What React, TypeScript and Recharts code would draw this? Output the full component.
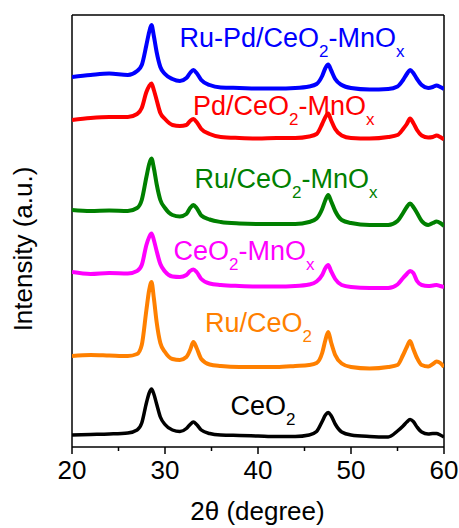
import React from 'react';
import { LineChart, Line, XAxis, YAxis, ReferenceLine } from 'recharts';

// 2θ positions (degree)
const twoTheta = [20, 22, 24, 26, 27, 27.5, 28, 28.3, 28.55, 28.8, 29.1, 29.5, 30, 30.8, 31.6, 32.3, 32.7, 33.05, 33.4, 33.9, 34.8, 36, 38, 40, 42, 44, 45.5, 46.3, 46.9, 47.25, 47.55, 47.85, 48.3, 49, 50, 52, 54, 55, 55.6, 56, 56.35, 56.7, 57.1, 57.6, 58.3, 58.8, 59.2, 59.6, 60];

// stacked intensities (a.u., offset already included)
const ruPdCeMn = [370, 372, 373.5, 372, 376, 382, 402, 415, 422, 411, 395, 380, 373, 368, 366, 369, 374, 377, 374, 367, 362, 359.5, 359, 358.5, 358.5, 359, 360.5, 363, 371, 379, 382.5, 377, 368, 362, 359, 357.5, 358, 360.5, 367, 373, 377, 374, 368, 362, 359, 360, 361.5, 360, 358];
const pdCeMn = [327, 329, 330, 330, 333, 339, 355, 361, 363.5, 357, 347, 334, 328, 322, 321, 322, 326, 328, 325, 318, 313, 310, 309, 308.5, 309, 309, 310.5, 313, 323, 330, 333.5, 327, 318, 311.5, 309, 308.5, 310, 312, 318, 323, 328.5, 324, 317, 311.5, 309.5, 310, 311.5, 310, 307.5];
const ruCeMn = [237, 236, 236.5, 236, 239, 247, 270, 283, 288.5, 279, 263, 247, 239, 232, 230.5, 233, 239, 242, 239, 231.5, 227.5, 225, 223.5, 223, 223, 223, 225, 228.5, 238, 247, 252, 246, 236, 227, 224, 222, 222, 226, 234, 240, 243.5, 240, 234, 226, 222, 224, 225.5, 224, 221];
const ceMn = [175, 173, 174, 173.5, 176, 182, 202, 210, 213.5, 207, 196, 183, 175.5, 170.5, 170, 172, 176, 177.5, 175, 168, 163.5, 162, 161, 160.5, 160.5, 161, 162.5, 165.5, 172, 179, 182, 176, 168, 162, 160, 159, 159, 162.5, 169, 173, 176, 174, 166, 162, 161, 161.5, 162, 161, 160];
const ruCe = [91, 92, 91.5, 91, 93, 102, 137, 157, 165, 149, 125, 104, 95, 88, 87, 90, 97, 105, 99, 88, 82.5, 81, 80, 80, 80, 81, 82, 84, 94, 107, 115, 105, 92, 83.5, 80, 78.5, 80, 82, 92, 100, 106, 98, 89, 82, 80.5, 83, 85.5, 84, 80];
const ce = [12, 12.5, 13, 14, 17, 24, 44, 54, 58, 53, 43, 30, 22.5, 17, 15.5, 18.5, 22.5, 25, 22.5, 17, 13.5, 12, 11.5, 11, 10.5, 10.5, 12, 15.5, 25.5, 32, 34.5, 31.5, 23, 15, 12, 10.5, 10, 16, 21, 25, 27.5, 25.5, 20, 15, 13, 13.5, 13.5, 12, 10];

const xTicks = [20, 25, 30, 35, 40, 45, 50, 55, 60];

const seriesKeys = ['ruPdCeMn', 'pdCeMn', 'ruCeMn', 'ceMn', 'ruCe', 'ce'];
const seriesValues = [ruPdCeMn, pdCeMn, ruCeMn, ceMn, ruCe, ce];
const seriesColors = ['#0000FF', '#FF0000', '#008000', '#FF00FF', '#FF8000', '#000000'];

// label text pieces: [text, isSubscript]
const seriesLabels: [string, boolean][][] = [
  [['Ru-Pd/CeO', false], ['2', true], ['-MnO', false], ['x', true]],
  [['Pd/CeO', false], ['2', true], ['-MnO', false], ['x', true]],
  [['Ru/CeO', false], ['2', true], ['-MnO', false], ['x', true]],
  [['CeO', false], ['2', true], ['-MnO', false], ['x', true]],
  [['Ru/CeO', false], ['2', true]],
  [['CeO', false], ['2', true]],
];
const labelPos = [
  [179.5, 46.5],
  [193, 115],
  [194.5, 188],
  [173.5, 260],
  [205, 331.5],
  [230.5, 415],
];

const data = twoTheta.map((x, i) => {
  const row: Record<string, number> = { x };
  seriesKeys.forEach((k, j) => {
    row[k] = seriesValues[j][i];
  });
  return row;
});

const FONT = '"Liberation Sans", Arial, Helvetica, sans-serif';

const XTick = (props: any) => {
  const { x, y, payload } = props;
  const v = payload.value;
  const major = v % 10 === 0;
  return (
    <g>
      <line x1={x} x2={x} y1={y} y2={y + (major ? 7 : 4)} stroke="#000" strokeWidth={1.5} />
      {major && (
        <text x={x} y={y + 13.5} dy="0.71em" textAnchor="middle" fontSize={26} fill="#000" fontFamily={FONT}>
          {v}
        </text>
      )}
    </g>
  );
};

const SeriesLabel = ({ parts, x, y, color }: { parts: [string, boolean][]; x: number; y: number; color: string }) => {
  let sub = false;
  return (
    <text x={x} y={y} fill={color} fontFamily={FONT} fontSize={27}>
      {parts.map(([t, isSub], i) => {
        let dy = 0;
        if (isSub && !sub) dy = 10;
        if (!isSub && sub) dy = -10;
        sub = isSub;
        return (
          <tspan key={i} dy={dy} fontSize={isSub ? 17 : 27}>
            {t}
          </tspan>
        );
      })}
    </text>
  );
};

export default function App() {
  return (
    <div style={{ position: 'absolute', left: 0, top: 0, background: '#fff' }}>
      <LineChart width={459} height={528} data={data} margin={{ top: 15, right: 15, bottom: 0, left: 72 }}>
        <XAxis
          dataKey="x"
          type="number"
          domain={[20, 60]}
          ticks={xTicks}
          interval={0}
          allowDataOverflow
          tickSize={0}
          tickMargin={0}
          tickLine={false}
          tick={<XTick />}
          axisLine={{ stroke: '#000', strokeWidth: 1.5 }}
          height={81}
        />
        <YAxis hide type="number" domain={[0, 432]} allowDataOverflow />
        <ReferenceLine x={20} stroke="#000" strokeWidth={1.5} />
        <ReferenceLine x={60} stroke="#000" strokeWidth={1.5} />
        <ReferenceLine y={432} stroke="#000" strokeWidth={1.5} />
        {seriesKeys.map((k, j) => (
          <Line
            key={k}
            dataKey={k}
            type="monotone"
            stroke={seriesColors[j]}
            strokeWidth={j === 5 ? 3.5 : 4}
            dot={false}
            activeDot={false}
            isAnimationActive={false}
          />
        ))}
        {seriesLabels.map((parts, j) => (
          <SeriesLabel key={j} parts={parts} x={labelPos[j][0]} y={labelPos[j][1]} color={seriesColors[j]} />
        ))}
        <text x={257.5} y={520} textAnchor="middle" fontSize={26} fill="#000" fontFamily={FONT}>
          2θ (degree)
        </text>
        <text x={32} y={249} transform="rotate(-90 32 249)" textAnchor="middle" fontSize={26} fill="#000" fontFamily={FONT}>
          Intensity (a.u.)
        </text>
      </LineChart>
    </div>
  );
}
